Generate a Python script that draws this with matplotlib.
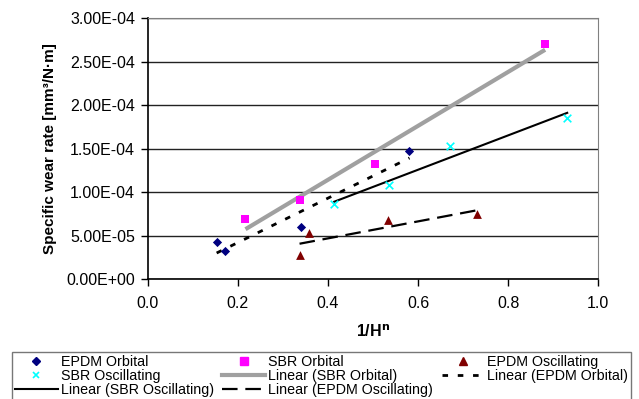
import numpy as np
import matplotlib
matplotlib.use("Agg")
import matplotlib.pyplot as plt
from matplotlib.lines import Line2D
from matplotlib.ticker import FuncFormatter

plt.rcParams['font.family'] = ['Liberation Sans', 'DejaVu Sans']

# data
epdm_orb_x = [0.153, 0.172, 0.340, 0.581]
epdm_orb_y = [4.22e-5, 3.26e-5, 5.95e-5, 1.473e-4]
sbr_orb_x = [0.217, 0.339, 0.504, 0.882]
sbr_orb_y = [6.9e-5, 9.09e-5, 1.32e-4, 2.708e-4]
epdm_osc_x = [0.337, 0.359, 0.533, 0.730]
epdm_osc_y = [2.72e-5, 5.26e-5, 6.79e-5, 7.44e-5]
sbr_osc_x = [0.414, 0.536, 0.670, 0.931]
sbr_osc_y = [8.6e-5, 1.078e-4, 1.534e-4, 1.856e-4]

W, H = 639, 399
fig = plt.figure(figsize=(W / 100, H / 100), dpi=100)
ax = fig.add_axes([147.7 / W, 1 - 279 / H, (598.3 - 147.7) / W, (279 - 18.3) / H])


def trend(x, y):
    k, b = np.polyfit(x, y, 1)
    xs = np.array([min(x), max(x)])
    return xs, k * xs + b


# trendlines
xs, ys = trend(sbr_orb_x, sbr_orb_y)
ax.plot(xs, ys, color='#a0a0a0', lw=3.0, solid_capstyle='butt', zorder=2)
xs, ys = trend(epdm_orb_x, epdm_orb_y)
ax.plot(xs, ys, color='black', lw=2.0, dashes=(2, 3.5), zorder=2)
xs, ys = trend(sbr_osc_x, sbr_osc_y)
ax.plot(xs, ys, color='black', lw=1.5, zorder=2)
xs, ys = trend(epdm_osc_x, epdm_osc_y)
ax.plot(xs, ys, color='black', lw=1.6, dashes=(7, 3.5), zorder=2)

# points
ax.scatter(epdm_orb_x, epdm_orb_y, marker='D', s=22, color='#000080', zorder=3, lw=0)
ax.scatter(sbr_orb_x, sbr_orb_y, marker='s', s=36, color='#ff00ff', zorder=3, lw=0)
ax.scatter(epdm_osc_x, epdm_osc_y, marker='^', s=40, color='#800000', zorder=3, lw=0)
ax.scatter(sbr_osc_x, sbr_osc_y, marker='x', s=30, color='#00ffff', zorder=3, lw=1.2)

ax.set_xlim(0, 1.0)
ax.set_ylim(0, 3e-4)
ax.set_xticks(np.arange(0, 1.01, 0.2))
ax.set_yticks(np.arange(0, 3.01e-4, 5e-5))
ax.xaxis.set_major_formatter(FuncFormatter(lambda v, p: '%.1f' % v))
ax.yaxis.set_major_formatter(FuncFormatter(lambda v, p: '%.2E' % v))
ax.grid(axis='y', color='#222222', lw=1.0)
ax.set_axisbelow(True)
for side in ['top', 'right']:
    ax.spines[side].set_color('#808080')
for side in ['left', 'bottom']:
    ax.spines[side].set_color('black')
    ax.spines[side].set_linewidth(1.2)
ax.tick_params(direction='out', length=5, width=1, labelsize=11.5)
ax.tick_params(axis='x', pad=7)
ax.tick_params(axis='y', pad=4)

ax.set_ylabel('Specific wear rate [mm³/N·m]', fontsize=11, fontweight='bold', labelpad=7)
ax.set_xlabel('1/H$^\\mathbf{n}$', fontsize=11.5, fontweight='bold', labelpad=9)

h_epdm_orb = Line2D([], [], marker='D', ms=4.5, color='#000080', lw=0)
h_sbr_orb = Line2D([], [], marker='s', ms=6, color='#ff00ff', lw=0)
h_epdm_osc = Line2D([], [], marker='^', ms=6, color='#800000', lw=0)
h_sbr_osc = Line2D([], [], marker='x', ms=5, color='#00ffff', lw=0, mew=1.2)
h_l_sbr_orb = Line2D([], [], color='#a0a0a0', lw=3.0)
h_l_epdm_orb = Line2D([], [], color='black', lw=2.0, dashes=(2, 3.5))
h_l_sbr_osc = Line2D([], [], color='black', lw=1.5)
h_l_epdm_osc = Line2D([], [], color='black', lw=1.6, dashes=(7, 3.5))

handles = [h_epdm_orb, h_sbr_osc, h_l_sbr_osc,
           h_sbr_orb, h_l_sbr_orb, h_l_epdm_osc,
           h_epdm_osc, h_l_epdm_orb]
labels = ['EPDM Orbital', 'SBR Oscillating', 'Linear (SBR Oscillating)',
          'SBR Orbital', 'Linear (SBR Orbital)', 'Linear (EPDM Oscillating)',
          'EPDM Oscillating', 'Linear (EPDM Orbital)']
leg = fig.legend(handles, labels, ncol=3, loc='upper left',
                 bbox_to_anchor=(12 / W, 1 - 352 / H), fontsize=10.3,
                 frameon=True, fancybox=False, edgecolor='#555555',
                 handlelength=3.0, handletextpad=0.2, columnspacing=0.6,
                 labelspacing=0.02, borderpad=0.2, borderaxespad=0)
leg.get_frame().set_linewidth(1.0)

fig.savefig('out.png', dpi=100)
